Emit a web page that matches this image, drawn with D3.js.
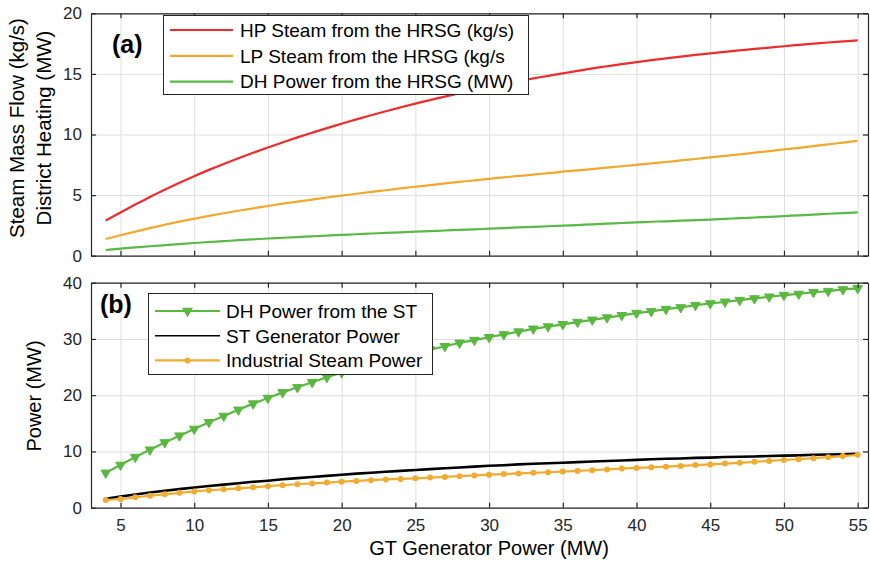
<!DOCTYPE html>
<html>
<head>
<meta charset="utf-8">
<script src="https://cdn.jsdelivr.net/npm/d3@7"></script>
<style>
  html, body { margin: 0; padding: 0; background: #fff; }
  svg { display: block; }
  text { font-family: "Liberation Sans", Arial, sans-serif; }
</style>
</head>
<body>
<div id="chart"></div>
<script>
// ---------- data ----------
const gtPower = [4,5,6,7,8,9,10,11,12,13,14,15,16,17,18,19,20,21,22,23,24,25,26,27,28,29,30,
  31,32,33,34,35,36,37,38,39,40,41,42,43,44,45,46,47,48,49,50,51,52,53,54,55];

// panel (a)
const hpSteamHRSG = [2.90,3.57,4.22,4.85,5.44,6.01,6.56,7.08,7.57,8.04,8.49,8.93,9.35,9.76,10.15,10.53,10.89,
  11.25,11.59,11.92,12.24,12.55,12.84,13.13,13.40,13.67,13.92,14.17,14.40,14.63,14.84,15.05,15.25,15.45,15.63,
  15.81,15.97,16.13,16.28,16.43,16.57,16.70,16.82,16.94,17.06,17.17,17.28,17.39,17.49,17.59,17.68,17.77];
const lpSteamHRSG = [1.38,1.69,1.99,2.28,2.55,2.81,3.05,3.28,3.50,3.71,3.91,4.10,4.29,4.46,4.63,4.80,4.95,
  5.11,5.26,5.40,5.55,5.69,5.82,5.96,6.09,6.21,6.34,6.46,6.58,6.69,6.81,6.93,7.04,7.15,7.27,7.38,7.50,
  7.61,7.73,7.86,7.98,8.11,8.23,8.36,8.50,8.63,8.77,8.90,9.04,9.19,9.33,9.48];
const dhPowerHRSG = [0.47,0.58,0.68,0.78,0.87,0.96,1.05,1.13,1.20,1.28,1.35,1.42,1.48,1.54,1.60,1.66,1.72,
  1.77,1.83,1.88,1.93,1.98,2.03,2.08,2.13,2.18,2.23,2.28,2.33,2.38,2.43,2.48,2.53,2.59,2.64,2.70,2.75,
  2.80,2.84,2.89,2.93,2.98,3.04,3.10,3.15,3.21,3.27,3.33,3.39,3.46,3.52,3.58];

// panel (b)
const dhPowerST = [6.2,7.6,9.0,10.3,11.6,12.8,14.0,15.2,16.3,17.4,18.5,19.5,20.5,21.4,22.3,23.2,24.0,
  24.8,25.5,26.2,26.9,27.5,28.1,28.7,29.3,29.8,30.3,30.8,31.3,31.8,32.2,32.6,33.0,33.4,33.8,34.2,34.6,
  34.9,35.3,35.6,36.0,36.3,36.6,36.9,37.2,37.5,37.8,38.0,38.3,38.5,38.8,39.0];
const stGenPower = [1.6,2.0,2.35,2.7,3.0,3.3,3.6,3.85,4.1,4.35,4.6,4.8,5.05,5.25,5.45,5.65,5.85,
  6.05,6.2,6.4,6.55,6.7,6.85,7.0,7.15,7.3,7.45,7.55,7.7,7.8,7.9,8.0,8.1,8.2,8.3,8.4,8.5,
  8.6,8.7,8.75,8.85,8.9,9.0,9.05,9.1,9.2,9.25,9.3,9.4,9.45,9.5,9.6];
const industrialSteamPower = [1.37,1.55,1.85,2.12,2.38,2.65,2.9,3.1,3.27,3.45,3.62,3.82,4.0,4.17,4.32,4.47,4.62,
  4.76,4.9,5.02,5.12,5.23,5.35,5.48,5.6,5.73,5.87,5.98,6.1,6.2,6.3,6.42,6.53,6.66,6.8,6.95,7.07,
  7.17,7.3,7.42,7.57,7.7,7.85,7.98,8.15,8.32,8.48,8.63,8.8,8.98,9.18,9.4];

const xTicks = [5,10,15,20,25,30,35,40,45,50,55];
const yTicksA = [0,5,10,15,20];
const yTicksB = [0,10,20,30,40];

const seriesA = [
  { name: "HP Steam from the HRSG (kg/s)", values: hpSteamHRSG, color: "#ef2b2b" },
  { name: "LP Steam from the HRSG (kg/s",  values: lpSteamHRSG, color: "#f2a82c" },
  { name: "DH Power from the HRSG (MW)",   values: dhPowerHRSG, color: "#58b947" }
];
const seriesB = [
  { name: "DH Power from the ST",     values: dhPowerST,            color: "#5ab840", marker: "tri", width: 2.2 },
  { name: "ST Generator Power",       values: stGenPower,           color: "#000000", marker: null,  width: 2.6 },
  { name: "Industrial Steam Power",   values: industrialSteamPower, color: "#f0ac30", marker: "dot", width: 2.2 }
];

// ---------- layout ----------
const W = 870, H = 562;
const L = 91, R = 868;
const panelA = { top: 13.3, bottom: 255.7 };
const panelB = { top: 282.7, bottom: 507.7 };
const axisColor = "#262626";
const gridColor = "#dedede";

const svg = d3.select("#chart").append("svg").attr("width", W).attr("height", H);

const x = d3.scaleLinear().domain([3, 55.7]).range([L, R]);
const yA = d3.scaleLinear().domain([0, 20]).range([panelA.bottom, panelA.top]);
const yB = d3.scaleLinear().domain([0, 40]).range([panelB.bottom, panelB.top]);

function drawGrid(y, yTicks, panel) {
  const g = svg.append("g");
  const h = panel.bottom - panel.top;
  g.append("g").attr("transform", `translate(0,${panel.bottom})`)
    .call(d3.axisBottom(x).tickValues(xTicks).tickSize(-h).tickFormat(""))
    .call(s => { s.select(".domain").remove(); s.selectAll("line").attr("stroke", gridColor).attr("stroke-width", 1); });
  g.append("g").attr("transform", `translate(${L},0)`)
    .call(d3.axisLeft(y).tickValues(yTicks).tickSize(-(R - L)).tickFormat(""))
    .call(s => { s.select(".domain").remove(); s.selectAll("line").attr("stroke", gridColor).attr("stroke-width", 1); });
  return g;
}

function drawAxes(y, yTicks, panel, showXLabels) {
  const g = svg.append("g");
  const style = s => {
    s.select(".domain").attr("stroke", axisColor).attr("stroke-width", 1.2);
    s.selectAll(".tick line").attr("stroke", axisColor).attr("stroke-width", 1.2);
    s.selectAll(".tick text").attr("fill", axisColor).style("font-size", "17px")
      .style("font-family", '"Liberation Sans", Arial, sans-serif');
  };
  g.append("g").attr("transform", `translate(0,${panel.bottom})`)
    .call(d3.axisBottom(x).tickValues(xTicks).tickSizeInner(-5).tickSizeOuter(0).tickPadding(11)
      .tickFormat(showXLabels ? d3.format("d") : ""))
    .call(style);
  g.append("g").attr("transform", `translate(0,${panel.top})`)
    .call(d3.axisTop(x).tickValues(xTicks).tickSizeInner(-5).tickSizeOuter(0).tickFormat(""))
    .call(style);
  g.append("g").attr("transform", `translate(${L},0)`)
    .call(d3.axisLeft(y).tickValues(yTicks).tickSizeInner(-5).tickSizeOuter(0).tickPadding(9).tickFormat(d3.format("d")))
    .call(style);
  g.append("g").attr("transform", `translate(${R},0)`)
    .call(d3.axisRight(y).tickValues(yTicks).tickSizeInner(-5).tickSizeOuter(0).tickFormat(""))
    .call(style);
}

// ---------- panel (a) ----------
drawGrid(yA, yTicksA, panelA);
const lineA = d3.line().x((d, i) => x(gtPower[i])).y(d => yA(d)).curve(d3.curveMonotoneX);
seriesA.slice().reverse().forEach(s => {
  svg.append("path").datum(s.values).attr("d", lineA)
    .attr("fill", "none").attr("stroke", s.color).attr("stroke-width", 2.2);
});
drawAxes(yA, yTicksA, panelA, false);

// legend (a)
{
  const lg = svg.append("g");
  lg.append("rect").attr("x", 163.5).attr("y", 15.5).attr("width", 365).attr("height", 79)
    .attr("fill", "#fff").attr("stroke", axisColor).attr("stroke-width", 1);
  seriesA.forEach((s, i) => {
    const yy = 30 + i * 25.8;
    lg.append("line").attr("x1", 170).attr("x2", 233).attr("y1", yy).attr("y2", yy)
      .attr("stroke", s.color).attr("stroke-width", 2.2);
    lg.append("text").attr("x", 240).attr("y", yy).attr("dy", "0.36em")
      .style("font-size", "19px").attr("fill", "#000").text(s.name);
  });
}
svg.append("text").attr("x", 112).attr("y", 53).style("font-size", "25px").style("font-weight", "bold")
  .attr("fill", "#000").text("(a)");

// y label (a)
svg.append("text").attr("transform", `translate(24,128) rotate(-90)`).attr("text-anchor", "middle")
  .style("font-size", "20.5px").attr("fill", "#000").text("Steam Mass Flow (kg/s)");
svg.append("text").attr("transform", `translate(51,128) rotate(-90)`).attr("text-anchor", "middle")
  .style("font-size", "20.5px").attr("fill", "#000").text("District Heating (MW)");

// ---------- panel (b) ----------
drawGrid(yB, yTicksB, panelB);
const lineB = d3.line().x((d, i) => x(gtPower[i])).y(d => yB(d));
const triPath = d3.symbol().type(d3.symbolTriangle).size(40)();
seriesB.forEach(s => {
  const g = svg.append("g");
  g.append("path").datum(s.values).attr("d", lineB)
    .attr("fill", "none").attr("stroke", s.color).attr("stroke-width", s.width).attr("stroke-linejoin", "round");
  if (s.marker === "tri") {
    g.selectAll("path.m").data(s.values).join("path").attr("class", "m")
      .attr("d", triPath)
      .attr("transform", (d, i) => `translate(${x(gtPower[i])},${yB(d)}) rotate(180)`)
      .attr("fill", s.color).attr("stroke", s.color).attr("stroke-width", 1);
  } else if (s.marker === "dot") {
    g.selectAll("circle").data(s.values).join("circle")
      .attr("cx", (d, i) => x(gtPower[i])).attr("cy", d => yB(d)).attr("r", 3)
      .attr("fill", s.color);
  }
});
drawAxes(yB, yTicksB, panelB, true);

// legend (b)
{
  const lg = svg.append("g");
  lg.append("rect").attr("x", 148.5).attr("y", 293.5).attr("width", 284).attr("height", 81)
    .attr("fill", "#fff").attr("stroke", axisColor).attr("stroke-width", 1);
  seriesB.forEach((s, i) => {
    const yy = 311 + i * 24.7;
    lg.append("line").attr("x1", 155).attr("x2", 220).attr("y1", yy).attr("y2", yy)
      .attr("stroke", s.color).attr("stroke-width", s.width === 2.6 ? 1.6 : 2.2);
    if (s.marker === "tri") {
      lg.append("path").attr("d", triPath).attr("transform", `translate(187.5,${yy}) rotate(180)`)
        .attr("fill", s.color).attr("stroke", s.color);
    } else if (s.marker === "dot") {
      lg.append("circle").attr("cx", 187.5).attr("cy", yy).attr("r", 3).attr("fill", s.color);
    }
    lg.append("text").attr("x", 226).attr("y", yy).attr("dy", "0.36em")
      .style("font-size", "19px").attr("fill", "#000").text(s.name);
  });
}
svg.append("text").attr("x", 100).attr("y", 313).style("font-size", "25px").style("font-weight", "bold")
  .attr("fill", "#000").text("(b)");

// axis labels (b)
svg.append("text").attr("transform", `translate(41,396) rotate(-90)`).attr("text-anchor", "middle")
  .style("font-size", "20px").attr("fill", "#000").text("Power (MW)");
svg.append("text").attr("x", 489).attr("y", 555).attr("text-anchor", "middle")
  .style("font-size", "20px").attr("fill", "#000").text("GT Generator Power (MW)");
</script>
</body>
</html>
